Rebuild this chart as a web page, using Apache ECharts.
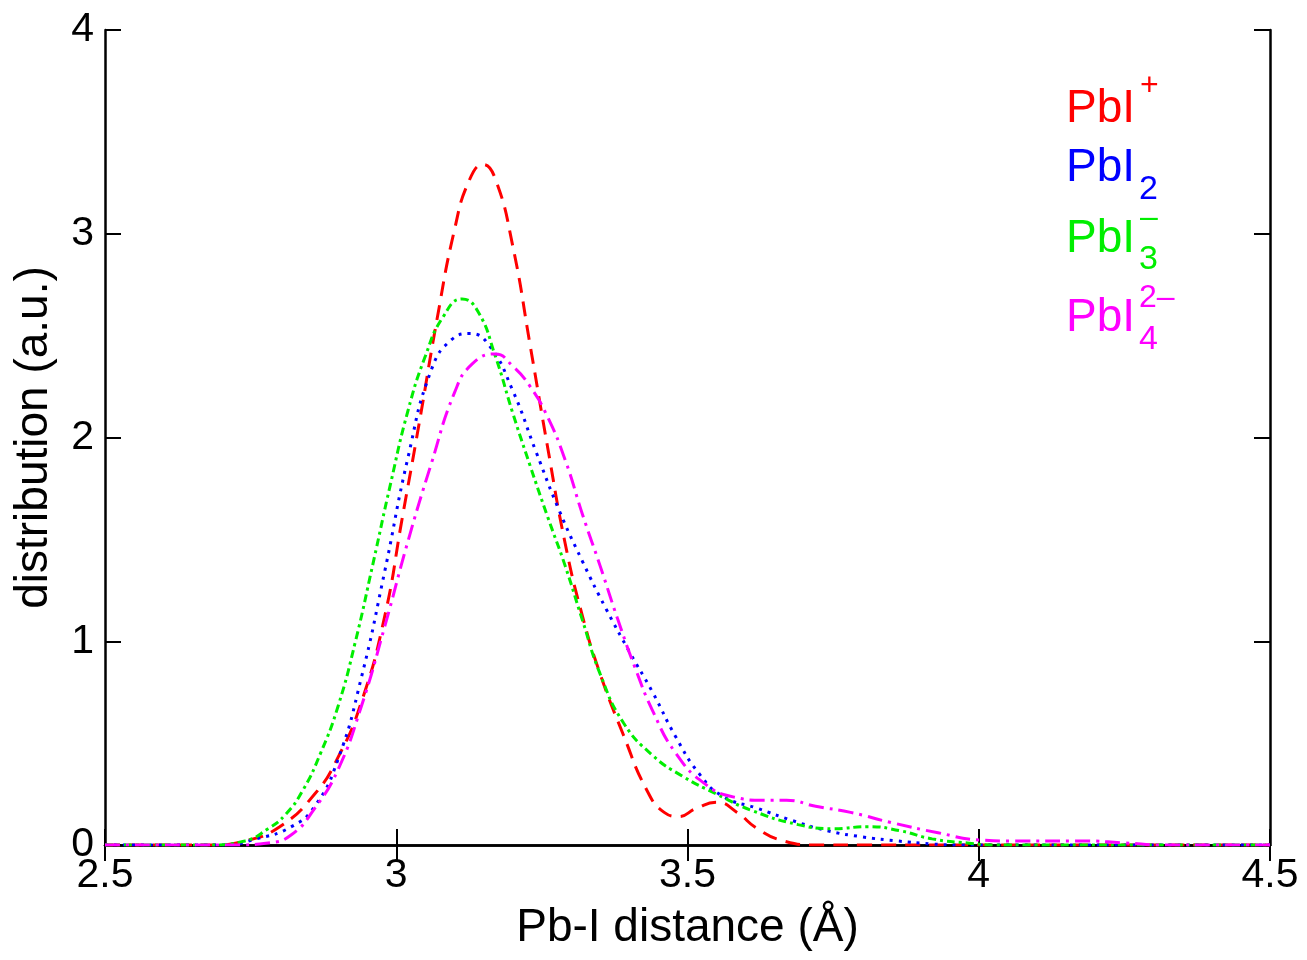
<!DOCTYPE html>
<html>
<head>
<meta charset="utf-8">
<script src="https://cdn.jsdelivr.net/npm/echarts@6/dist/echarts.min.js"></script>
<style>
  html, body { margin: 0; padding: 0; background: #fff; }
  #chart { width: 1307px; height: 960px; }
</style>
</head>
<body>
<div id="chart"></div>
<script>
// Pb-I distance (Å) and distribution values
const pbI_x = [2.5, 2.68, 2.74, 2.80, 2.86, 2.90, 2.94, 2.98, 3.01, 3.04, 3.07, 3.10, 3.125, 3.149, 3.17, 3.20, 3.23, 3.26, 3.29, 3.32, 3.35, 3.39, 3.43, 3.46, 3.485, 3.515, 3.55, 3.585, 3.62, 3.665, 3.72, 3.8, 4.5];
const pbI_y = [0, 0, 0.02, 0.09, 0.25, 0.43, 0.70, 1.12, 1.60, 2.08, 2.58, 3.02, 3.26, 3.34, 3.27, 2.94, 2.45, 1.95, 1.48, 1.12, 0.84, 0.54, 0.27, 0.16, 0.14, 0.18, 0.21, 0.16, 0.08, 0.02, 0, 0, 0];

const pbI2_x = [2.5, 2.7, 2.76, 2.82, 2.86, 2.90, 2.94, 2.98, 3.02, 3.06, 3.095, 3.127, 3.16, 3.20, 3.24, 3.28, 3.32, 3.36, 3.40, 3.44, 3.48, 3.52, 3.56, 3.62, 3.68, 3.74, 3.80, 3.86, 3.92, 3.97, 4.05, 4.5];
const pbI2_y = [0, 0, 0.03, 0.09, 0.19, 0.42, 0.82, 1.34, 1.90, 2.33, 2.48, 2.51, 2.45, 2.23, 1.93, 1.64, 1.39, 1.16, 0.95, 0.75, 0.53, 0.35, 0.24, 0.18, 0.12, 0.07, 0.04, 0.02, 0.005, 0, 0, 0];

const pbI3_x = [2.5, 2.68, 2.74, 2.78, 2.81, 2.84, 2.87, 2.90, 2.93, 2.96, 2.99, 3.02, 3.05, 3.08, 3.113, 3.14, 3.17, 3.20, 3.23, 3.26, 3.29, 3.32, 3.35, 3.39, 3.44, 3.49, 3.55, 3.61, 3.69, 3.75, 3.81, 3.865, 3.92, 3.98, 4.03, 4.1, 4.5];
const pbI3_y = [0, 0, 0.02, 0.08, 0.15, 0.27, 0.45, 0.68, 1.00, 1.38, 1.77, 2.13, 2.40, 2.59, 2.68, 2.62, 2.40, 2.12, 1.86, 1.61, 1.37, 1.10, 0.84, 0.60, 0.44, 0.34, 0.25, 0.17, 0.10, 0.08, 0.09, 0.07, 0.03, 0.01, 0, 0, 0];

const pbI4_x = [2.5, 2.72, 2.78, 2.82, 2.86, 2.90, 2.94, 2.98, 3.02, 3.06, 3.10, 3.13, 3.17, 3.20, 3.23, 3.26, 3.29, 3.32, 3.35, 3.38, 3.41, 3.44, 3.48, 3.53, 3.58, 3.63, 3.67, 3.72, 3.78, 3.85, 3.93, 4.0, 4.06, 4.18, 4.25, 4.32, 4.4, 4.5];
const pbI4_y = [0, 0, 0.01, 0.05, 0.18, 0.37, 0.68, 1.07, 1.49, 1.87, 2.22, 2.36, 2.41, 2.35, 2.25, 2.10, 1.89, 1.62, 1.37, 1.11, 0.87, 0.66, 0.45, 0.30, 0.235, 0.22, 0.22, 0.19, 0.16, 0.11, 0.06, 0.025, 0.02, 0.02, 0.01, 0, 0, 0];

const xTicks = [2.5, 3, 3.5, 4, 4.5];
const yTicks = [0, 1, 2, 3, 4];

const FONT = 'Liberation Sans, Arial, sans-serif';
const zip = (xs, ys) => xs.map((x, i) => [x, ys[i]]);

const makeSeries = (name, xs, ys, color, dash) => ({
  name,
  type: 'line',
  data: zip(xs, ys),
  xAxisIndex: 0,
  yAxisIndex: 0,
  showSymbol: false,
  smooth: 0.5,
  lineStyle: { color, width: 3, type: dash, cap: 'butt' }
});

const frameAxis = { lineStyle: { color: '#000', width: 2.5 } };
const tickStyle = { inside: true, length: 16, lineStyle: { color: '#000', width: 2 } };

const option = {
  animation: false,
  backgroundColor: '#fff',
  grid: { left: 105, right: 37, top: 30, bottom: 115 },
  xAxis: [
    {
      type: 'value',
      position: 'bottom',
      min: xTicks[0],
      max: xTicks[xTicks.length - 1],
      interval: 0.5,
      axisLine: frameAxis,
      axisTick: tickStyle,
      splitLine: { show: false },
      axisLabel: { color: '#000', fontSize: 41, fontFamily: FONT, margin: 10 },
      name: 'Pb-I distance (Å)',
      nameLocation: 'middle',
      nameGap: 60,
      nameTextStyle: { color: '#000', fontSize: 46, fontFamily: FONT }
    },
    {
      type: 'value',
      position: 'top',
      min: xTicks[0],
      max: xTicks[xTicks.length - 1],
      interval: 0.5,
      axisLine: frameAxis,
      axisTick: tickStyle,
      splitLine: { show: false },
      axisLabel: { show: false }
    }
  ],
  yAxis: [
    {
      type: 'value',
      position: 'left',
      min: yTicks[0],
      max: yTicks[yTicks.length - 1],
      interval: 1,
      axisLine: frameAxis,
      axisTick: tickStyle,
      splitLine: { show: false },
      axisLabel: { color: '#000', fontSize: 41, fontFamily: FONT, margin: 11 },
      name: 'distribution (a.u.)',
      nameLocation: 'middle',
      nameGap: 48,
      nameTextStyle: { color: '#000', fontSize: 46, fontFamily: FONT }
    },
    {
      type: 'value',
      position: 'right',
      min: yTicks[0],
      max: yTicks[yTicks.length - 1],
      interval: 1,
      axisLine: frameAxis,
      axisTick: tickStyle,
      splitLine: { show: false },
      axisLabel: { show: false }
    }
  ],
  series: [
    makeSeries('PbI+', pbI_x, pbI_y, '#ff0000', [15, 9]),
    makeSeries('PbI2', pbI2_x, pbI2_y, '#0000ff', [3, 6]),
    makeSeries('PbI3-', pbI3_x, pbI3_y, '#00ee00', [8, 4, 3, 4]),
    makeSeries('PbI4 2-', pbI4_x, pbI4_y, '#ff00ff', [15, 6, 3, 6])
  ],
  // legend drawn as text with super/subscripts
  graphic: [
    { type: 'text', style: { text: 'PbI', x: 1066, y: 109, fill: '#ff0000', font: '46px ' + FONT, textVerticalAlign: 'middle' } },
    { type: 'text', style: { text: '+', x: 1140, y: 86, fill: '#ff0000', font: '32px ' + FONT, textVerticalAlign: 'middle' } },
    { type: 'text', style: { text: 'PbI', x: 1066, y: 168, fill: '#0000ff', font: '46px ' + FONT, textVerticalAlign: 'middle' } },
    { type: 'text', style: { text: '2', x: 1139, y: 190, fill: '#0000ff', font: '34px ' + FONT, textVerticalAlign: 'middle' } },
    { type: 'text', style: { text: 'PbI', x: 1066, y: 239, fill: '#00ee00', font: '46px ' + FONT, textVerticalAlign: 'middle' } },
    { type: 'text', style: { text: '\u2013', x: 1140, y: 218, fill: '#00ee00', font: '32px ' + FONT, textVerticalAlign: 'middle' } },
    { type: 'text', style: { text: '3', x: 1139, y: 260, fill: '#00ee00', font: '34px ' + FONT, textVerticalAlign: 'middle' } },
    { type: 'text', style: { text: 'PbI', x: 1066, y: 318, fill: '#ff00ff', font: '46px ' + FONT, textVerticalAlign: 'middle' } },
    { type: 'text', style: { text: '2\u2013', x: 1139, y: 298, fill: '#ff00ff', font: '32px ' + FONT, textVerticalAlign: 'middle' } },
    { type: 'text', style: { text: '4', x: 1139, y: 340, fill: '#ff00ff', font: '34px ' + FONT, textVerticalAlign: 'middle' } }
  ]
};

const myChart = echarts.init(document.getElementById('chart'));
myChart.setOption(option);
</script>
</body>
</html>
